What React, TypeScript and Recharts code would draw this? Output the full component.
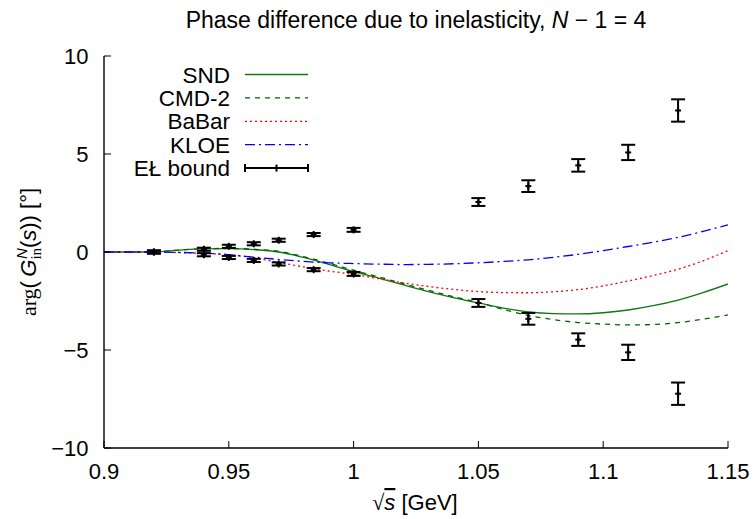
import React from 'react';
import { ComposedChart, Line, Scatter, ErrorBar, XAxis, YAxis } from 'recharts';

const font = '"Liberation Sans", Arial, Helvetica, sans-serif';
const serif = '"Liberation Serif", "Times New Roman", serif';

// curve sample points (GeV)
const curveX = [
  0.9, 0.91, 0.92, 0.93, 0.94, 0.95, 0.96, 0.97, 0.98, 0.99, 1.0, 1.01, 1.02,
  1.03, 1.04, 1.05, 1.06, 1.07, 1.08, 1.09, 1.1, 1.11, 1.12, 1.13, 1.14, 1.15,
];
const sndPhase = [
  0, 0, 0, 0.1, 0.16, 0.17, 0.12, 0.0, -0.28, -0.63, -1.0, -1.33, -1.68,
  -2.02, -2.33, -2.6, -2.86, -3.05, -3.14, -3.16, -3.1, -2.96, -2.74, -2.45, -2.07, -1.63,
];
const cmdPhase = [
  0, 0, 0, 0.1, 0.17, 0.18, 0.14, 0.03, -0.24, -0.57, -0.93, -1.27, -1.62,
  -1.96, -2.28, -2.58, -2.93, -3.24, -3.45, -3.6, -3.68, -3.72, -3.7, -3.6, -3.43, -3.21,
];
const babarPhase = [
  0, 0, 0, -0.03, -0.07, -0.14, -0.3, -0.53, -0.76, -0.97, -1.14, -1.36, -1.58,
  -1.76, -1.91, -2.02, -2.07, -2.08, -2.03, -1.92, -1.73, -1.48, -1.2, -0.88, -0.45, 0.07,
];
const kloePhase = [
  0, 0, 0, -0.02, -0.06, -0.14, -0.26, -0.38, -0.48, -0.55, -0.59, -0.62, -0.64,
  -0.63, -0.6, -0.55, -0.48, -0.4, -0.27, -0.12, 0.07, 0.28, 0.5, 0.75, 1.05, 1.38,
];

// EŁ bound points
const boundX = [0.92, 0.94, 0.95, 0.96, 0.97, 0.984, 1.0, 1.05, 1.07, 1.09, 1.11, 1.13];
const boundUpper = [0, 0.14, 0.29, 0.42, 0.6, 0.89, 1.13, 2.55, 3.36, 4.42, 5.08, 7.22];
const boundLower = [0, -0.14, -0.28, -0.43, -0.61, -0.9, -1.12, -2.6, -3.41, -4.47, -5.12, -7.23];
const boundErr = [0.08, 0.08, 0.08, 0.08, 0.08, 0.08, 0.1, 0.2, 0.3, 0.32, 0.39, 0.57];

const xTicks = [0.9, 0.95, 1, 1.05, 1.1, 1.15];
const xTickLabels = ['0.9', '0.95', '1', '1.05', '1.1', '1.15'];
const yTicks = [-10, -5, 0, 5, 10];
const yTickLabels = ['\u221210', '\u22125', '0', '5', '10'];

const series = [
  { name: 'SND', values: sndPhase, color: '#117711', dash: undefined },
  { name: 'CMD-2', values: cmdPhase, color: '#006400', dash: '5 5' },
  { name: 'BaBar', values: babarPhase, color: '#ff0000', dash: '2 3' },
  { name: 'KLOE', values: kloePhase, color: '#0000ff', dash: '10 4 2 4' },
];

const upperPts = boundX.map((x, i) => ({ x, y: boundUpper[i], err: boundErr[i] }));
const lowerPts = boundX.map((x, i) => ({ x, y: boundLower[i], err: boundErr[i] }));

const TICK = 7;

const BottomTick = (p: any) => (
  <g>
    <line x1={p.x} y1={p.y} x2={p.x} y2={p.y - TICK} stroke="#000" />
    <text x={p.x} y={p.y + 30.5} textAnchor="middle" fontFamily={font} fontSize={22} fill="#000">
      {xTickLabels[xTicks.indexOf(p.payload.value)]}
    </text>
  </g>
);
const TopTick = (p: any) => <line x1={p.x} y1={p.y} x2={p.x} y2={p.y + TICK} stroke="#000" />;
const LeftTick = (p: any) => (
  <g>
    <line x1={p.x} y1={p.y} x2={p.x + TICK} y2={p.y} stroke="#000" />
    <text x={p.x - 15.5} y={p.y + 8} textAnchor="end" fontFamily={font} fontSize={22} fill="#000">
      {yTickLabels[yTicks.indexOf(p.payload.value)]}
    </text>
  </g>
);
const RightTick = (p: any) => <line x1={p.x} y1={p.y} x2={p.x - TICK} y2={p.y} stroke="#000" />;

const BoundPoint = (p: any) => (
  <g stroke="#000" strokeWidth={2}>
    <line x1={p.cx - 3} y1={p.cy} x2={p.cx + 3} y2={p.cy} />
    <line x1={p.cx} y1={p.cy - 3.5} x2={p.cx} y2={p.cy + 3.5} />
  </g>
);

const axisLine = { stroke: '#000', strokeWidth: 1.4 };

export default function App() {
  return (
    <div style={{ position: 'absolute', left: 0, top: 0, width: 754, height: 519, background: '#fff' }}>
      <ComposedChart width={754} height={519} margin={{ top: 56, right: 26, bottom: 0, left: 0 }}>
        <XAxis xAxisId="b" dataKey="x" type="number" domain={[0.9, 1.15]} ticks={xTicks} interval={0}
          height={71} tickSize={0} tickMargin={0} tickLine={false} axisLine={axisLine} tick={BottomTick} allowDataOverflow />
        <XAxis xAxisId="t" orientation="top" dataKey="x" type="number" domain={[0.9, 1.15]} ticks={xTicks} interval={0}
          height={0} tickSize={0} tickMargin={0} tickLine={false} axisLine={axisLine} tick={TopTick} allowDataOverflow />
        <YAxis yAxisId="l" type="number" domain={[-10, 10]} ticks={yTicks} interval={0}
          width={104} tickSize={0} tickMargin={0} tickLine={false} axisLine={axisLine} tick={LeftTick} allowDataOverflow />
        <YAxis yAxisId="r" orientation="right" type="number" domain={[-10, 10]} ticks={yTicks} interval={0}
          width={0} tickSize={0} tickMargin={0} tickLine={false} axisLine={axisLine} tick={RightTick} allowDataOverflow />
        {series.map((s) => (
          <Line key={s.name} xAxisId="b" yAxisId="l" data={curveX.map((x, i) => ({ x, y: s.values[i] }))}
            dataKey="y" type="monotone" dot={false} stroke={s.color} strokeWidth={1.3}
            strokeDasharray={s.dash} isAnimationActive={false} />
        ))}
        {[upperPts, lowerPts].map((pts, k) => (
          <Scatter key={k} xAxisId="b" yAxisId="l" data={pts} dataKey="y" shape={BoundPoint} isAnimationActive={false}>
            <ErrorBar dataKey="err" direction="y" width={7} stroke="#000" strokeWidth={2} isAnimationActive={false} />
          </Scatter>
        ))}
      </ComposedChart>
      <svg width={754} height={519} style={{ position: 'absolute', left: 0, top: 0, pointerEvents: 'none' }}>
        <text x={416} y={28} textAnchor="middle" fontFamily={font} fontSize={23} fill="#000">
          Phase difference due to inelasticity, <tspan fontStyle="italic">N</tspan>{' \u2212 1 = 4'}
        </text>
        <text x={415} y={510} textAnchor="middle" fontFamily={font} fontSize={22} fill="#000">
          <tspan fontFamily={serif}>{'\u221A'}</tspan>
          <tspan fontStyle="italic" textDecoration="overline">s</tspan> [GeV]
        </text>
        <text transform="translate(36,252) rotate(-90)" textAnchor="middle" fontFamily={font} fontSize={22} fill="#000">
          <tspan fontFamily={serif}>arg</tspan>({'\u2009'}<tspan fontStyle="italic">G</tspan>
          <tspan fontFamily={serif} fontSize={15} dy={5}>in</tspan>
          <tspan fontStyle="italic" fontSize={15} dx={-11} dy={-14}>N</tspan>
          <tspan dy={9}>(</tspan><tspan fontStyle="italic">s</tspan>)) [{'\u00B0'}]
        </text>
        {series.map((s, i) => (
          <g key={s.name}>
            <text x={230} y={74.5 + i * 23.4 + 8} textAnchor="end" fontFamily={font} fontSize={22.5} fill="#000">{s.name}</text>
            <line x1={245} x2={308} y1={74.5 + i * 23.4} y2={74.5 + i * 23.4} stroke={s.color}
              strokeWidth={1.3} strokeDasharray={s.dash} />
          </g>
        ))}
        <g>
          <text x={230} y={74.5 + 4 * 23.4 + 8} textAnchor="end" fontFamily={font} fontSize={22.5} fill="#000">EŁ bound</text>
          <g stroke="#000" strokeWidth={2}>
            <line x1={245} x2={308} y1={74.5 + 4 * 23.4} y2={74.5 + 4 * 23.4} />
            <line x1={245} x2={245} y1={74.5 + 4 * 23.4 - 4} y2={74.5 + 4 * 23.4 + 4} />
            <line x1={308} x2={308} y1={74.5 + 4 * 23.4 - 4} y2={74.5 + 4 * 23.4 + 4} />
            <line x1={276.5} x2={276.5} y1={74.5 + 4 * 23.4 - 3.5} y2={74.5 + 4 * 23.4 + 3.5} />
          </g>
        </g>
      </svg>
    </div>
  );
}
